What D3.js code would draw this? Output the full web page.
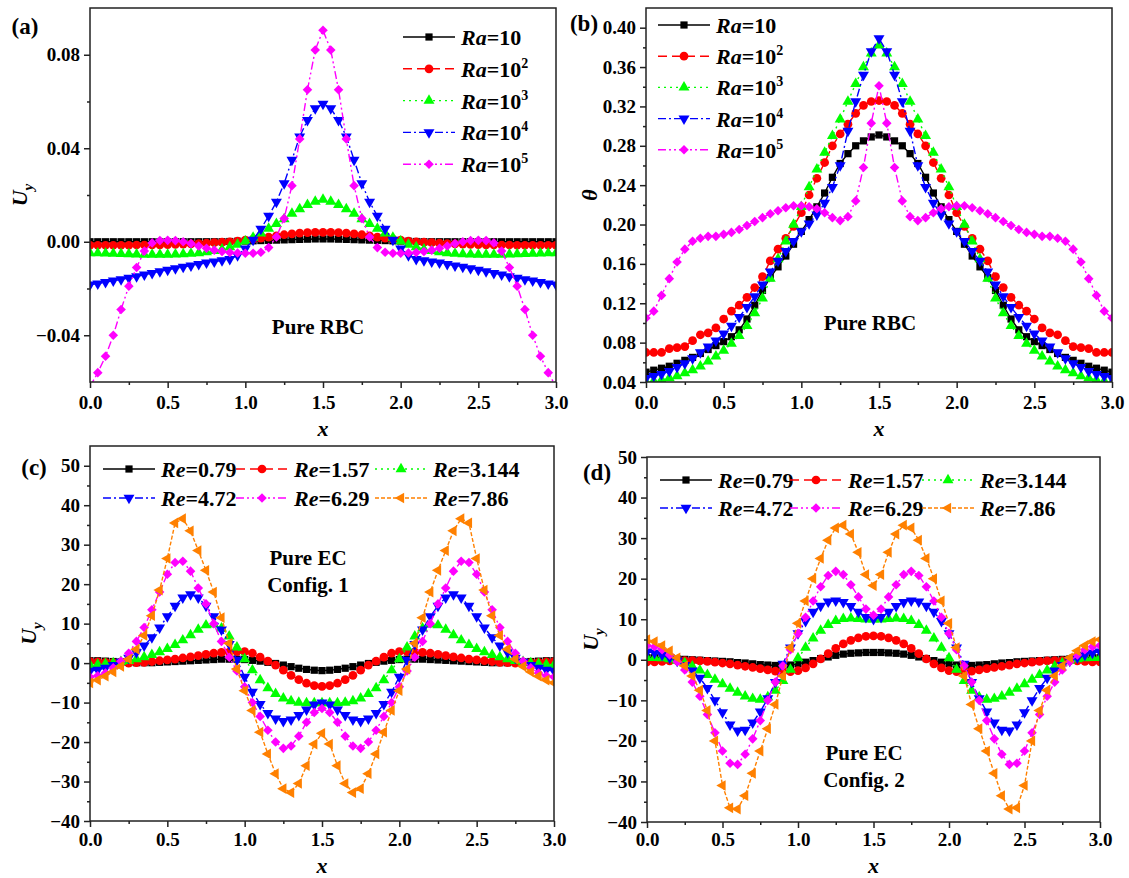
<!DOCTYPE html>
<html>
<head>
<meta charset="utf-8">
<script src="https://cdn.jsdelivr.net/npm/d3@7"></script>
<style>
body { margin: 0; background: #fff; }
svg text { font-family: "Liberation Serif", "Times New Roman", Times, serif; font-weight: bold; fill: #000; }
</style>
</head>
<body>
<svg id="fig" width="1129" height="878"></svg>
<script>
// x positions of the sampled points (same grid for every curve)
var xGrid = [0,0.05,0.1,0.15,0.2,0.25,0.3,0.35,0.4,0.45,0.5,0.55,0.6,0.65,0.7,0.75,0.8,0.85,0.9,0.95,
  1,1.05,1.1,1.15,1.2,1.25,1.3,1.35,1.4,1.45,1.5,1.55,1.6,1.65,1.7,1.75,1.8,1.85,1.9,1.95,
  2,2.05,2.1,2.15,2.2,2.25,2.3,2.35,2.4,2.45,2.5,2.55,2.6,2.65,2.7,2.75,2.8,2.85,2.9,2.95,3];

// (a) U_y, pure RBC
var uyRa10 = [0,0,0,0,0,0,0,0,0,0,0,0,0,0,0,0,0,0,0.0001,0.0002,0.0003,0.0004,0.0005,0.0006,0.0007,0.0008,0.0009,0.0010,0.0011,0.0012,0.0012,
  0.0012,0.0011,0.0010,0.0009,0.0008,0.0007,0.0006,0.0005,0.0004,0.0003,0.0002,0.0001,0,0,0,0,0,0,0,0,0,0,0,0,0,0,0,0,0,0];
var uyRa100 = [-0.0015,-0.0015,-0.0015,-0.0015,-0.0015,-0.0015,-0.0014,-0.0014,-0.0013,-0.0013,-0.0012,-0.0011,-0.0010,-0.0009,-0.0008,-0.0006,-0.0004,-0.0002,0.0000,0.0003,
  0.0007,0.0011,0.0015,0.0020,0.0025,0.0030,0.0034,0.0037,0.0039,0.0040,0.0040,
  0.0040,0.0039,0.0037,0.0034,0.0030,0.0025,0.0020,0.0015,0.0011,0.0007,0.0003,0.0000,-0.0002,-0.0004,-0.0006,-0.0008,-0.0009,-0.0010,-0.0011,-0.0012,
  -0.0013,-0.0013,-0.0014,-0.0014,-0.0015,-0.0015,-0.0015,-0.0015,-0.0015,-0.0015];
var uyRa1e3 = [-0.0048,-0.0049,-0.0050,-0.0051,-0.0052,-0.0053,-0.0054,-0.0055,-0.0055,-0.0055,-0.0055,-0.0054,-0.0053,-0.0051,-0.0048,-0.0044,-0.0039,-0.0032,-0.0023,-0.0012,
  0.0002,0.0018,0.0036,0.0056,0.0077,0.0097,0.0120,0.0140,0.0158,0.0172,0.0180,
  0.0172,0.0158,0.0140,0.0120,0.0097,0.0077,0.0056,0.0036,0.0018,0.0002,-0.0012,-0.0023,-0.0032,-0.0039,-0.0044,-0.0048,-0.0051,-0.0053,-0.0054,-0.0055,
  -0.0055,-0.0055,-0.0055,-0.0054,-0.0053,-0.0052,-0.0051,-0.0050,-0.0049,-0.0048];
var uyRa1e4 = [-0.0184,-0.0179,-0.0173,-0.0167,-0.0161,-0.0155,-0.0148,-0.0141,-0.0134,-0.0127,-0.0120,-0.0114,-0.0108,-0.0102,-0.0096,-0.0090,-0.0085,-0.0080,-0.0075,-0.0058,
  -0.0030,0.0008,0.0055,0.0110,0.0170,0.0250,0.0350,0.0450,0.0520,0.0570,0.0590,
  0.0570,0.0520,0.0450,0.0350,0.0250,0.0170,0.0110,0.0055,0.0008,-0.0030,-0.0058,-0.0075,-0.0080,-0.0085,-0.0090,-0.0096,-0.0102,-0.0108,-0.0114,-0.0120,
  -0.0127,-0.0134,-0.0141,-0.0148,-0.0155,-0.0161,-0.0167,-0.0173,-0.0179,-0.0184];
var uyRa1e5 = [-0.0620,-0.0560,-0.0490,-0.0400,-0.0290,-0.0190,-0.0110,-0.0040,-0.0005,0.0005,0.0006,0.0005,0.0000,-0.0008,-0.0018,-0.0028,-0.0036,-0.0042,-0.0046,-0.0048,
  -0.0049,-0.0049,-0.0045,-0.0025,0.0020,0.0100,0.0240,0.0440,0.0650,0.0820,0.0905,
  0.0820,0.0650,0.0440,0.0240,0.0100,0.0020,-0.0025,-0.0045,-0.0049,-0.0049,-0.0048,-0.0046,-0.0042,-0.0036,-0.0028,-0.0018,-0.0008,0.0000,0.0005,0.0006,
  0.0005,-0.0005,-0.0040,-0.0110,-0.0190,-0.0290,-0.0400,-0.0490,-0.0560,-0.0620];

// (b) theta, pure RBC
var thRa10 = [0.050,0.052,0.054,0.056,0.059,0.062,0.065,0.069,0.073,0.077,0.081,0.086,0.093,0.104,0.118,0.133,0.146,0.157,0.168,0.180,
  0.193,0.205,0.218,0.232,0.248,0.262,0.272,0.280,0.285,0.289,0.291,
  0.289,0.285,0.280,0.272,0.262,0.248,0.232,0.218,0.205,0.193,0.180,0.168,0.157,0.146,0.133,0.118,0.104,0.093,0.086,0.081,
  0.077,0.073,0.069,0.065,0.062,0.059,0.056,0.054,0.052,0.050];
var thRa100 = [0.070,0.070,0.070,0.074,0.075,0.076,0.082,0.088,0.090,0.095,0.104,0.112,0.118,0.126,0.136,0.147,0.163,0.175,0.186,0.198,
  0.212,0.230,0.247,0.263,0.280,0.292,0.302,0.313,0.321,0.325,0.326,
  0.325,0.321,0.313,0.302,0.292,0.280,0.263,0.247,0.230,0.212,0.198,0.186,0.175,0.163,0.147,0.136,0.126,0.118,0.112,0.104,
  0.095,0.090,0.088,0.082,0.076,0.075,0.074,0.070,0.070,0.070];
var thRa1e3 = [0.040,0.041,0.042,0.044,0.046,0.049,0.052,0.056,0.061,0.066,0.072,0.079,0.087,0.097,0.110,0.125,0.145,0.165,0.183,0.200,
  0.218,0.238,0.256,0.273,0.290,0.307,0.325,0.343,0.360,0.374,0.382,
  0.374,0.360,0.343,0.325,0.307,0.290,0.273,0.256,0.238,0.218,0.200,0.183,0.165,0.145,0.125,0.110,0.097,0.087,0.079,0.072,
  0.066,0.061,0.056,0.052,0.049,0.046,0.044,0.042,0.041,0.040];
var thRa1e4 = [0.044,0.046,0.048,0.051,0.055,0.059,0.064,0.070,0.076,0.082,0.089,0.097,0.106,0.116,0.127,0.139,0.152,0.163,0.173,0.183,
  0.193,0.201,0.210,0.222,0.238,0.260,0.295,0.325,0.352,0.376,0.389,
  0.376,0.352,0.325,0.295,0.260,0.238,0.222,0.210,0.201,0.193,0.183,0.173,0.163,0.152,0.139,0.127,0.116,0.106,0.097,0.089,
  0.082,0.076,0.070,0.064,0.059,0.055,0.051,0.048,0.046,0.044];
var thRa1e5 = [0.105,0.112,0.128,0.145,0.162,0.175,0.183,0.186,0.188,0.188,0.190,0.192,0.195,0.199,0.203,0.207,0.211,0.214,0.217,0.219,
  0.219,0.218,0.216,0.212,0.207,0.204,0.208,0.224,0.258,0.303,0.341,
  0.303,0.258,0.224,0.208,0.204,0.207,0.212,0.216,0.218,0.219,0.219,0.217,0.214,0.211,0.207,0.203,0.199,0.195,0.192,0.190,
  0.188,0.188,0.186,0.183,0.175,0.162,0.145,0.128,0.112,0.105];

// (c) U_y, pure EC, config. 1
var c1Re079 = [0.6,0.6,0.5,0.4,0.3,0.2,0.1,0.1,0.1,0.2,0.3,0.4,0.5,0.6,0.7,0.8,0.9,1.0,1.0,1.0,
  0.9,0.7,0.5,0.2,-0.1,-0.5,-0.9,-1.3,-1.6,-1.8,-1.9,
  -1.8,-1.6,-1.3,-0.9,-0.5,-0.1,0.2,0.5,0.7,0.9,1.0,1.0,1.0,0.9,0.8,0.7,0.6,0.5,0.4,0.3,
  0.2,0.1,0.1,0.1,0.2,0.3,0.4,0.5,0.6,0.6];
var c1Re157 = [0.4,0.3,0.2,0.1,0.0,0.0,0.1,0.2,0.4,0.6,0.8,1.0,1.3,1.6,1.9,2.2,2.5,2.7,2.8,2.9,
  2.9,2.5,1.5,0.5,-0.5,-1.8,-3.1,-4.2,-5.1,-5.7,-5.9,
  -5.7,-5.1,-4.2,-3.1,-1.8,-0.5,0.5,1.5,2.5,2.9,2.9,2.8,2.7,2.5,2.2,1.9,1.6,1.3,1.0,0.8,
  0.6,0.4,0.2,0.1,0.0,0.0,0.1,0.2,0.3,0.4];
var c1Re3144 = [-0.5,-0.4,-0.2,0.0,0.3,0.6,1.0,1.5,2.1,2.8,3.6,4.6,5.8,7.1,8.5,9.6,9.8,8.8,6.8,4.0,
  1.0,-1.8,-4.3,-6.3,-7.8,-8.9,-9.6,-10.0,-10.1,-10.1,-10.1,
  -10.1,-10.1,-10.0,-9.6,-8.9,-7.8,-6.3,-4.3,-1.8,1.0,4.0,6.8,8.8,9.8,9.6,8.5,7.1,5.8,4.6,3.6,
  2.8,2.1,1.5,1.0,0.6,0.3,0.0,-0.2,-0.4,-0.5];
var c1Re472 = [-2.0,-1.7,-1.2,-0.5,0.3,1.3,2.7,4.4,6.5,9.0,11.8,14.5,16.6,17.4,16.6,14.5,11.8,8.5,4.8,0.8,
  -3.5,-7.3,-10.4,-12.7,-14.1,-14.7,-14.3,-13.2,-11.8,-10.5,-10.0,
  -10.5,-11.8,-13.2,-14.3,-14.7,-14.1,-12.7,-10.4,-7.3,-3.5,0.8,4.8,8.5,11.8,14.5,16.6,17.4,16.6,14.5,11.8,
  9.0,6.5,4.4,2.7,1.3,0.3,-0.5,-1.2,-1.7,-2.0];
var c1Re629 = [-3.5,-3.2,-2.5,-1.2,0.5,2.5,5.5,9.0,13.5,18.0,22.5,25.5,25.8,23.3,19.0,15.0,10.0,5.5,1.5,-2.0,
  -6.0,-10.0,-13.5,-17.0,-20.0,-21.6,-21.0,-18.5,-15.0,-12.5,-11.5,
  -12.5,-15.0,-18.5,-21.0,-21.6,-20.0,-17.0,-13.5,-10.0,-6.0,-2.0,1.5,5.5,10.0,15.0,19.0,23.3,25.8,25.5,22.5,
  18.0,13.5,9.0,5.5,2.5,0.5,-1.2,-2.5,-3.2,-3.5];
var c1Re786 = [-5.0,-4.3,-3.3,-2.2,-0.8,1.0,3.5,7.0,12.0,18.5,26.5,35.5,36.6,33.5,28.5,23.5,18.0,11.5,5.0,-1.5,
  -7.0,-12.0,-17.5,-23.0,-28.0,-31.8,-32.8,-30.5,-26.0,-20.5,-17.8,
  -20.5,-26.0,-30.5,-32.8,-31.8,-28.0,-23.0,-17.5,-12.0,-7.0,-1.5,5.0,11.5,18.0,23.5,28.5,33.5,36.6,35.5,26.5,
  18.5,12.0,7.0,3.5,1.0,-0.8,-2.2,-3.3,-4.3,-5.0];

// (d) U_y, pure EC, config. 2
var c2Re079 = [0.5,0.5,0.4,0.3,0.2,0.1,0.0,-0.1,-0.2,-0.3,-0.4,-0.5,-0.7,-0.8,-1.0,-1.2,-1.3,-1.4,-1.4,-1.3,
  -1.0,-0.6,-0.2,0.3,0.7,1.1,1.4,1.6,1.7,1.8,1.8,
  1.8,1.7,1.6,1.4,1.1,0.7,0.3,-0.2,-0.6,-1.0,-1.3,-1.4,-1.4,-1.3,-1.2,-1.0,-0.8,-0.7,-0.5,-0.4,
  -0.3,-0.2,-0.1,0.0,0.1,0.2,0.3,0.4,0.5,0.5];
var c2Re157 = [-0.5,-0.5,-0.4,-0.3,-0.2,-0.2,-0.2,-0.3,-0.4,-0.6,-0.8,-1.0,-1.3,-1.6,-1.9,-2.2,-2.5,-2.8,-2.9,-2.9,
  -2.7,-2.0,-1.0,0.2,1.5,2.8,3.9,4.8,5.4,5.8,5.9,
  5.8,5.4,4.8,3.9,2.8,1.5,0.2,-1.0,-2.0,-2.7,-2.9,-2.9,-2.8,-2.5,-2.2,-1.9,-1.6,-1.3,-1.0,-0.8,
  -0.6,-0.4,-0.3,-0.2,-0.2,-0.2,-0.3,-0.4,-0.5,-0.5];
var c2Re3144 = [0.5,0.5,0.4,0.2,-0.2,-0.8,-1.6,-2.6,-3.7,-4.9,-6.0,-7.1,-8.1,-9.0,-9.6,-9.8,-9.2,-7.6,-5.2,-2.4,
  0.4,3.0,5.3,7.2,8.6,9.6,10.1,10.2,10.1,10.0,10.0,
  10.0,10.1,10.2,10.1,9.6,8.6,7.2,5.3,3.0,0.4,-2.4,-5.2,-7.6,-9.2,-9.8,-9.6,-9.0,-8.1,-7.1,-6.0,
  -4.9,-3.7,-2.6,-1.6,-0.8,-0.2,0.2,0.4,0.5,0.5];
var c2Re472 = [2.0,1.7,1.2,0.5,-0.3,-1.3,-2.7,-4.5,-7.0,-10.0,-13.0,-16.0,-17.5,-17.3,-15.5,-12.8,-9.5,-5.5,-1.0,3.0,
  6.5,9.5,11.8,13.3,14.3,14.6,14.2,13.2,11.8,10.5,10.0,
  10.5,11.8,13.2,14.2,14.6,14.3,13.3,11.8,9.5,6.5,3.0,-1.0,-5.5,-9.5,-12.8,-15.5,-17.3,-17.5,-16.0,-13.0,
  -10.0,-7.0,-4.5,-2.7,-1.3,-0.3,0.5,1.2,1.7,2.0];
var c2Re629 = [3.5,3.2,2.5,1.2,-0.5,-2.5,-5.5,-9.0,-13.5,-18.0,-22.5,-25.5,-25.8,-23.3,-19.5,-15.0,-10.0,-5.5,-1.5,2.5,
  6.5,10.5,14.5,18.0,20.8,21.8,21.0,18.5,15.5,12.5,11.0,
  12.5,15.5,18.5,21.0,21.8,20.8,18.0,14.5,10.5,6.5,2.5,-1.5,-5.5,-10.0,-15.0,-19.5,-23.3,-25.8,-25.5,-22.5,
  -18.0,-13.5,-9.0,-5.5,-2.5,-0.5,1.2,2.5,3.2,3.5];
var c2Re786 = [5.0,4.5,3.5,2.2,0.5,-1.5,-4.0,-7.5,-12.5,-20.0,-31.0,-36.5,-36.8,-33.5,-28.0,-22.5,-17.0,-11.0,-4.0,3.0,
  9.0,14.5,20.0,25.0,29.5,32.5,33.2,31.0,26.5,21.0,18.3,
  21.0,26.5,31.0,33.2,32.5,29.5,25.0,20.0,14.5,9.0,3.0,-4.0,-11.0,-17.0,-22.5,-28.0,-33.5,-36.8,-36.5,-31.0,
  -20.0,-12.5,-7.5,-4.0,-1.5,0.5,2.2,3.5,4.5,5.0];

// ticks and legend labels
var xTicks = [0, 0.5, 1, 1.5, 2, 2.5, 3];
var xMinor = [0.25, 0.75, 1.25, 1.75, 2.25, 2.75];
var yTicksA = [-0.04, 0, 0.04, 0.08];
var yMinorA = [-0.02, 0.02, 0.06];
var yTicksB = [0.04, 0.08, 0.12, 0.16, 0.20, 0.24, 0.28, 0.32, 0.36, 0.40];
var yMinorB = [0.06, 0.10, 0.14, 0.18, 0.22, 0.26, 0.30, 0.34, 0.38];
var yTicksCD = [-40, -30, -20, -10, 0, 10, 20, 30, 40, 50];
var yMinorCD = [-35, -25, -15, -5, 5, 15, 25, 35, 45];
var raBase = ["10", "10", "10", "10", "10"];
var raExp = ["", "2", "3", "4", "5"];
var reValues = ["0.79", "1.57", "3.144", "4.72", "6.29", "7.86"];

// line / marker style per series index
var styles = [
  {color: "#000000", dash: null,            shape: "square"},
  {color: "#ff0000", dash: "9,5",           shape: "circle"},
  {color: "#00ff00", dash: "2,4",           shape: "up"},
  {color: "#0000ff", dash: "8,3,2,3",       shape: "down"},
  {color: "#ff00ff", dash: "8,3,2,3,2,3",   shape: "diamond"},
  {color: "#ff8000", dash: "4,2",           shape: "left"}
];

function symbolOf(shape) {
  if (shape == "square") return {d: d3.symbol(d3.symbolSquare, 52)(), rot: 0};
  if (shape == "circle") return {d: d3.symbol(d3.symbolCircle, 60)(), rot: 0};
  if (shape == "up") return {d: d3.symbol(d3.symbolTriangle, 52)(), rot: 0};
  if (shape == "down") return {d: d3.symbol(d3.symbolTriangle, 52)(), rot: 180};
  if (shape == "left") return {d: d3.symbol(d3.symbolTriangle, 50)(), rot: -90};
  return {d: d3.symbol(d3.symbolSquare, 46)(), rot: 45};
}

var svg = d3.select("#fig");

function drawMarker(g, st, x, y) {
  var s = symbolOf(st.shape);
  g.append("path").attr("d", s.d)
    .attr("transform", "translate(" + x + "," + y + ") rotate(" + s.rot + ")")
    .attr("fill", st.color);
}

function legendText(g, x, y, name, value, exp) {
  var t = g.append("text").attr("x", x).attr("y", y).style("font-size", "22px");
  t.append("tspan").style("font-style", "italic").text(name);
  t.append("tspan").text("=" + value);
  if (exp) t.append("tspan").attr("dy", -9).style("font-size", "14px").text(exp);
}

function panel(p) {
  var w = p.R - p.L, h = p.B - p.T;
  var g = svg.append("g").attr("transform", "translate(" + p.L + "," + p.T + ")");
  var x = d3.scaleLinear().domain([0, 3]).range([0, w]);
  var y = d3.scaleLinear().domain(p.yDomain).range([h, 0]);

  g.append("clipPath").attr("id", "clip" + p.id)
    .append("rect").attr("width", w).attr("height", h);
  var plot = g.append("g").attr("clip-path", "url(#clip" + p.id + ")");

  var line = d3.line().x(function(d, i) { return x(xGrid[i]); }).y(function(d) { return y(d); });
  p.series.forEach(function(vals, k) {
    var st = styles[k];
    plot.append("path").attr("d", line(vals))
      .attr("fill", "none").attr("stroke", st.color).attr("stroke-width", 1.4)
      .attr("stroke-dasharray", st.dash);
    var mg = plot.append("g");
    vals.forEach(function(v, i) { drawMarker(mg, st, x(xGrid[i]), y(v)); });
  });

  // axes
  g.append("g").attr("transform", "translate(0," + h + ")")
    .call(d3.axisBottom(x).tickValues(xTicks).tickFormat(d3.format(".1f")).tickSize(6).tickPadding(p.xPad));
  g.append("g").attr("transform", "translate(0," + h + ")")
    .call(d3.axisBottom(x).tickValues(xMinor).tickFormat("").tickSize(3));
  g.append("g")
    .call(d3.axisLeft(y).tickValues(p.yTicks).tickFormat(d3.format(p.fmt)).tickSize(6).tickPadding(4));
  g.append("g").call(d3.axisLeft(y).tickValues(p.yMinor).tickFormat("").tickSize(3));
  g.selectAll(".domain").remove();
  g.selectAll(".tick line").attr("stroke", "#222").attr("stroke-width", 1.5);
  g.selectAll(".tick text").style("font-size", "19px").attr("fill", "#000");
  g.append("rect").attr("width", w).attr("height", h)
    .attr("fill", "none").attr("stroke", "#222").attr("stroke-width", 1.5);

  // axis titles
  svg.append("text").attr("x", p.L + w / 2).attr("y", p.B + p.xlOff)
    .attr("text-anchor", "middle").style("font-size", "22px").style("font-style", "italic").text("x");
  var yl = svg.append("text").attr("transform", "translate(" + p.ylx + "," + (p.T + h / 2) + ") rotate(-90)")
    .attr("text-anchor", "middle").style("font-size", "22px").style("font-style", "italic");
  if (p.ylabel == "theta") {
    yl.text("\u03b8");
  } else {
    yl.append("tspan").text("U");
    yl.append("tspan").attr("dy", 6).style("font-size", "15px").text("y");
  }

  // panel tag
  svg.append("text").attr("x", p.tag[0]).attr("y", p.tag[1])
    .attr("text-anchor", "middle").style("font-size", "23px").text("(" + p.id + ")");

  // annotation
  p.note.forEach(function(s, i) {
    svg.append("text").attr("x", p.noteX).attr("y", p.noteY + i * 27)
      .attr("text-anchor", "middle").style("font-size", "21px").text(s);
  });

  // legend
  var lg = svg.append("g");
  p.legend.forEach(function(e, k) {
    var st = styles[k];
    lg.append("line").attr("x1", e.x).attr("x2", e.x + 52).attr("y1", e.y).attr("y2", e.y)
      .attr("stroke", st.color).attr("stroke-width", 1.4).attr("stroke-dasharray", st.dash);
    drawMarker(lg, st, e.x + 26, e.y);
    legendText(lg, e.x + 58, e.y + 8, e.name, e.value, e.exp);
  });
}

function raLegend(x0, y0, dy) {
  return raBase.map(function(b, i) { return {x: x0, y: y0 + i * dy, name: "Ra", value: b, exp: raExp[i]}; });
}
function reLegend(cols, rows) {
  return reValues.map(function(v, i) { return {x: cols[i % 3], y: rows[Math.floor(i / 3)], name: "Re", value: v, exp: ""}; });
}

panel({id: "a", L: 90, R: 556, T: 8, B: 382, yDomain: [-0.06, 0.10], yTicks: yTicksA, yMinor: yMinorA, fmt: ".2f",
  series: [uyRa10, uyRa100, uyRa1e3, uyRa1e4, uyRa1e5], ylabel: "U", ylx: 27, tag: [25, 34], xlOff: 54, xPad: 8,
  note: ["Pure RBC"], noteX: 318, noteY: 334, legend: raLegend(403, 37, 31.8)});
panel({id: "b", L: 646, R: 1112, T: 8, B: 382, yDomain: [0.04, 0.42], yTicks: yTicksB, yMinor: yMinorB, fmt: ".2f",
  series: [thRa10, thRa100, thRa1e3, thRa1e4, thRa1e5], ylabel: "theta", ylx: 597, tag: [584, 31], xlOff: 54, xPad: 8,
  note: ["Pure RBC"], noteX: 870, noteY: 330, legend: raLegend(658, 25, 31.2)});
panel({id: "c", L: 90, R: 554, T: 446, B: 821, yDomain: [-40, 55], yTicks: yTicksCD, yMinor: yMinorCD, fmt: "d",
  series: [c1Re079, c1Re157, c1Re3144, c1Re472, c1Re629, c1Re786], ylabel: "U", ylx: 36, tag: [34, 475], xlOff: 52, xPad: 6,
  note: ["Pure EC", "Config. 1"], noteX: 308, noteY: 565, legend: reLegend([103, 236, 375], [469, 498])});
panel({id: "d", L: 647, R: 1100, T: 457, B: 822, yDomain: [-40, 50], yTicks: yTicksCD, yMinor: yMinorCD, fmt: "d",
  series: [c2Re079, c2Re157, c2Re3144, c2Re472, c2Re629, c2Re786], ylabel: "U", ylx: 598, tag: [597, 480], xlOff: 51, xPad: 5,
  note: ["Pure EC", "Config. 2"], noteX: 864, noteY: 760, legend: reLegend([660, 790, 922], [480, 508])});
</script>
</body>
</html>
